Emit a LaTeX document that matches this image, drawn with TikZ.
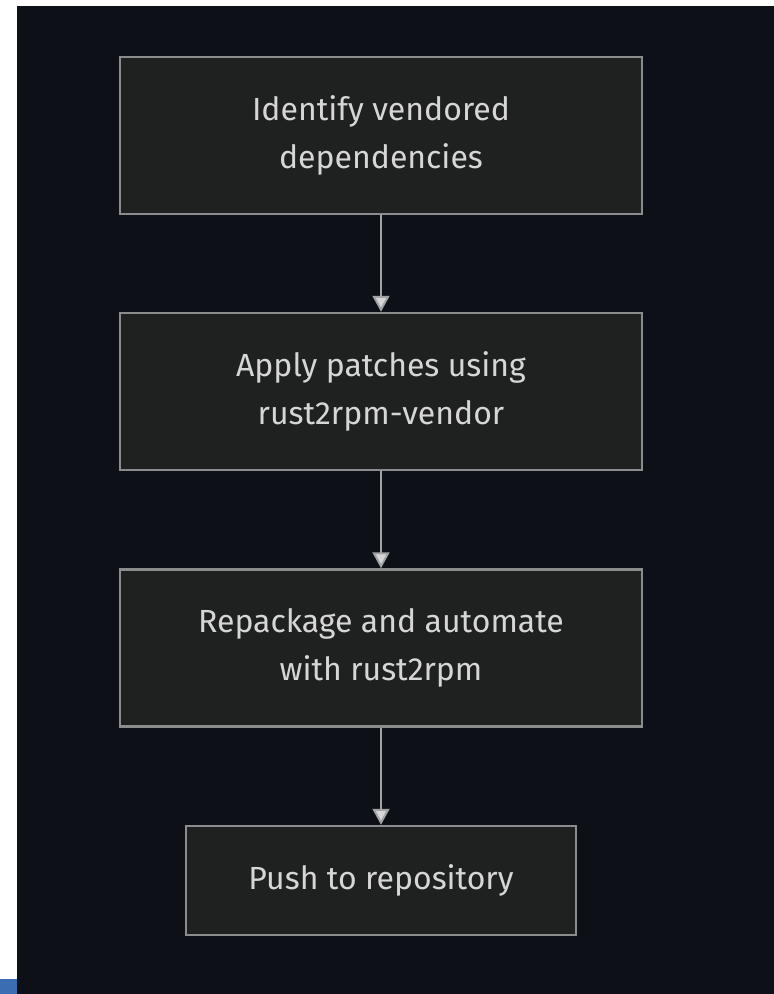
\documentclass[tikz,border=0pt]{standalone}
\usepackage{fontspec}
\setmainfont{Fira Sans}
\usetikzlibrary{arrows.meta}
\definecolor{bgdark}{HTML}{0D1117}
\definecolor{boxfill}{HTML}{1F2020}
\definecolor{boxline}{HTML}{8A8C8E}
\definecolor{txtgray}{HTML}{D6D6D6}
\definecolor{edgeblue}{HTML}{3B6DB3}

\begin{document}
\begin{tikzpicture}[x=1pt,y=-1pt,
  stepbox/.style={rectangle, draw=boxline, line width=2.5pt, fill=boxfill,
    text=txtgray, inner sep=0pt, align=center,
    font=\fontsize{32}{48}\selectfont},
  flow/.style={draw=boxline!80!white, line width=2pt,
    -{Triangle[width=17pt,length=16pt,fill=txtgray]}}]
\useasboundingbox (0,0) rectangle (774,994);
\fill[white] (0,0) rectangle (774,6);
\fill[white] (0,0) rectangle (17,994);
\fill[edgeblue] (0,979) rectangle (17,994);
\fill[bgdark] (17,6) rectangle (774,994);

\node[stepbox, minimum width=522pt, minimum height=157pt] (ident) at (381,135.5) {Identify vendored\\dependencies};
\node[stepbox, minimum width=522pt, minimum height=157pt] (patch) at (381,391.5) {Apply patches using\\rust2rpm-vendor};
\node[stepbox, minimum width=522pt, minimum height=157pt] (repack) at (381,648) {Repackage and automate\\with rust2rpm};
\node[stepbox, minimum width=390pt, minimum height=109pt] (push) at (381,880.5) {Push to repository};

\draw[flow] (ident) -- (patch);
\draw[flow] (patch) -- (repack);
\draw[flow] (repack) -- (push);

\end{tikzpicture}
\end{document}
